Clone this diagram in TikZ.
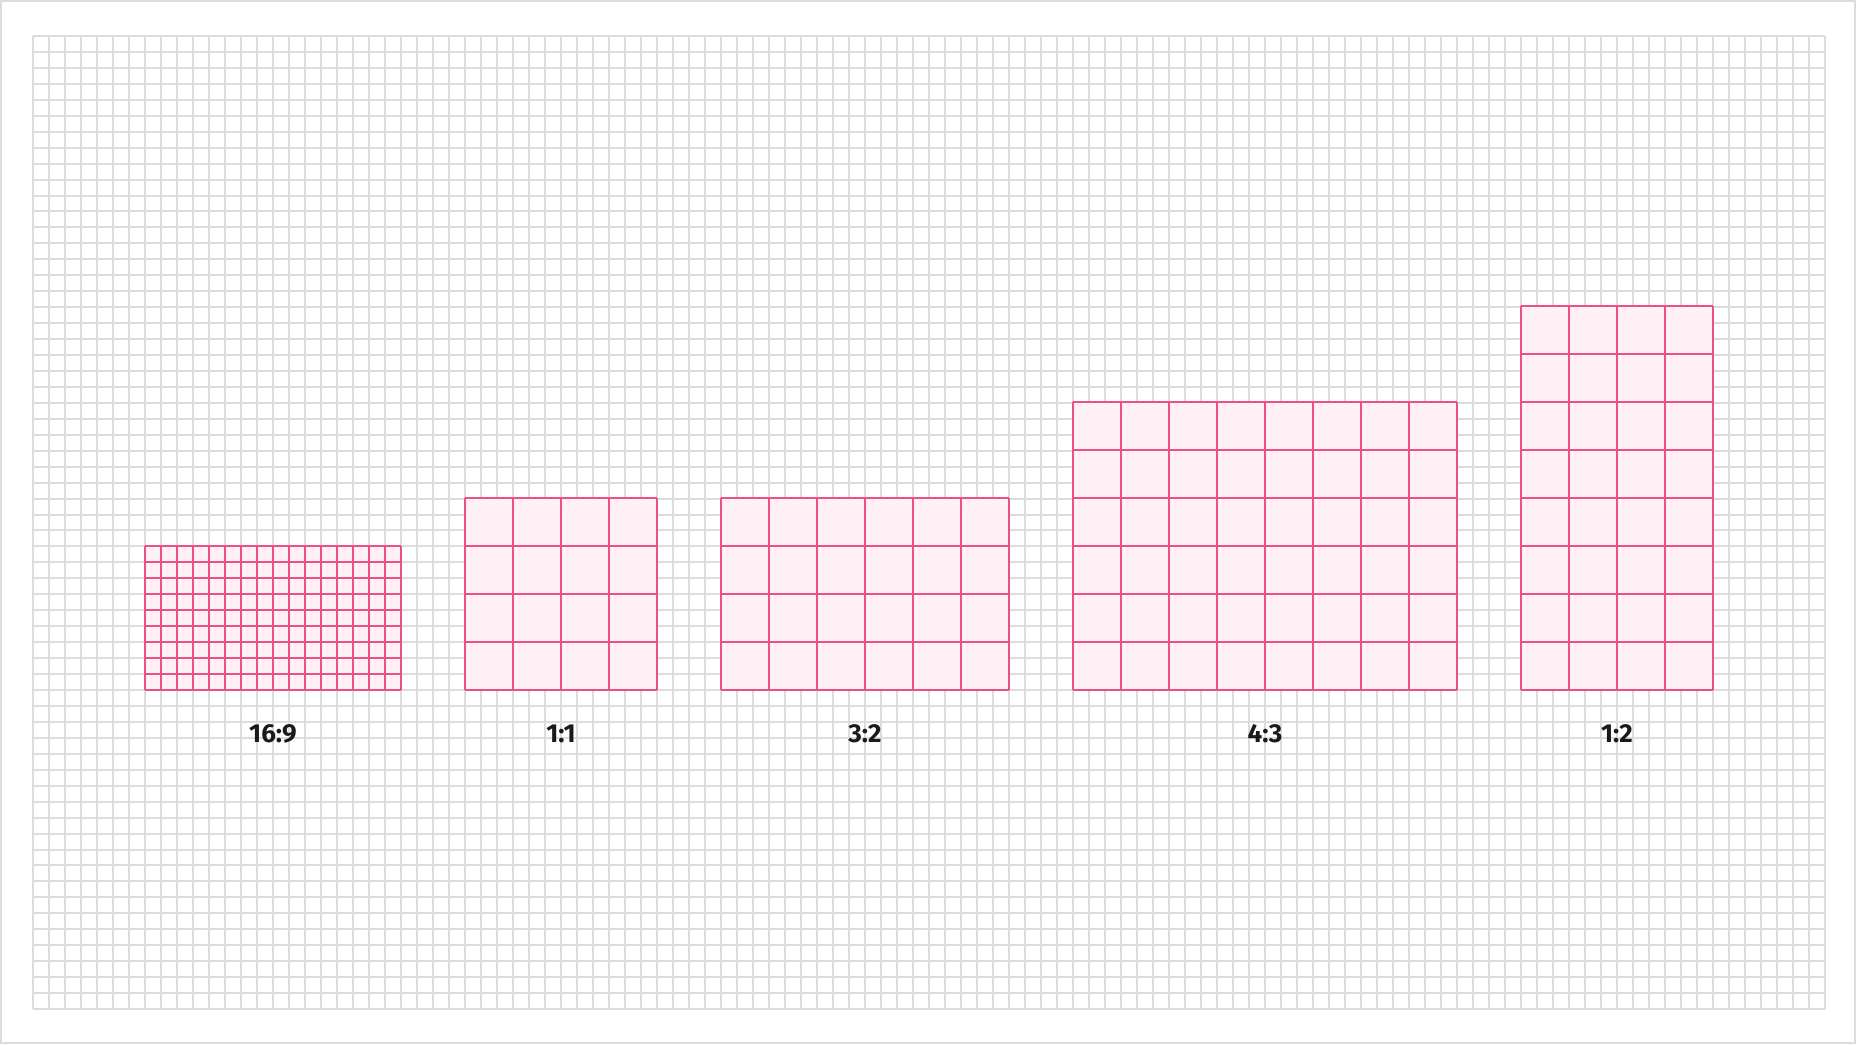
\documentclass[tikz,border=0pt]{standalone}
\usepackage{fontspec}
\setmainfont{Fira Sans}
\definecolor{gridgray}{HTML}{DCDCDC}
\definecolor{ratiopink}{HTML}{EC4E8A}
\definecolor{ratiofill}{HTML}{FFF0F5}
\definecolor{labelink}{HTML}{1A1A1A}
\tikzset{
  bgline/.style={gridgray, line width=1pt},
  cellline/.style={ratiopink, line width=1pt},
  ratiolabel/.style={labelink, font=\bfseries\fontsize{13}{15}\selectfont},
}

\begin{document}
\begin{tikzpicture}[x=0.5pt, y=-0.5pt]

	% page and outer frame
	\useasboundingbox (0,0) rectangle (1856,1044);
	\fill[white] (0,0) rectangle (1856,1044);
	\draw[bgline] (1,1) rectangle (1855,1043);

	% background grid
	\foreach \i in {0,...,112}
		\draw[bgline] ({33+16*\i},36) -- ({33+16*\i},1009);
	\foreach \j in {0,...,61}
		\draw[bgline] (33,{36+973/61*\j}) -- (1825,{36+973/61*\j});

	% ratio boxes: left/top/columns/rows/cell size/label
	\foreach \x/\y/\c/\r/\s/\t [count=\k] in
		{145/546/16/9/16/16:9, 465/498/4/4/48/1:1, 721/498/6/4/48/3:2,
		 1073/402/8/6/48/4:3, 1521/306/4/8/48/1:2}
	{
		\fill[ratiofill] (\x,\y) rectangle ({\x+\c*\s},{\y+\r*\s});
		\foreach \i in {0,...,\c}
			\draw[cellline] ({\x+\i*\s},\y) -- ({\x+\i*\s},{\y+\r*\s});
		\foreach \j in {0,...,\r}
			\draw[cellline] (\x,{\y+\j*\s}) -- ({\x+\c*\s},{\y+\j*\s});
		\node[ratiolabel] (label\k) at ({\x+\c*\s/2},734) {\t};
	}

\end{tikzpicture}
\end{document}
